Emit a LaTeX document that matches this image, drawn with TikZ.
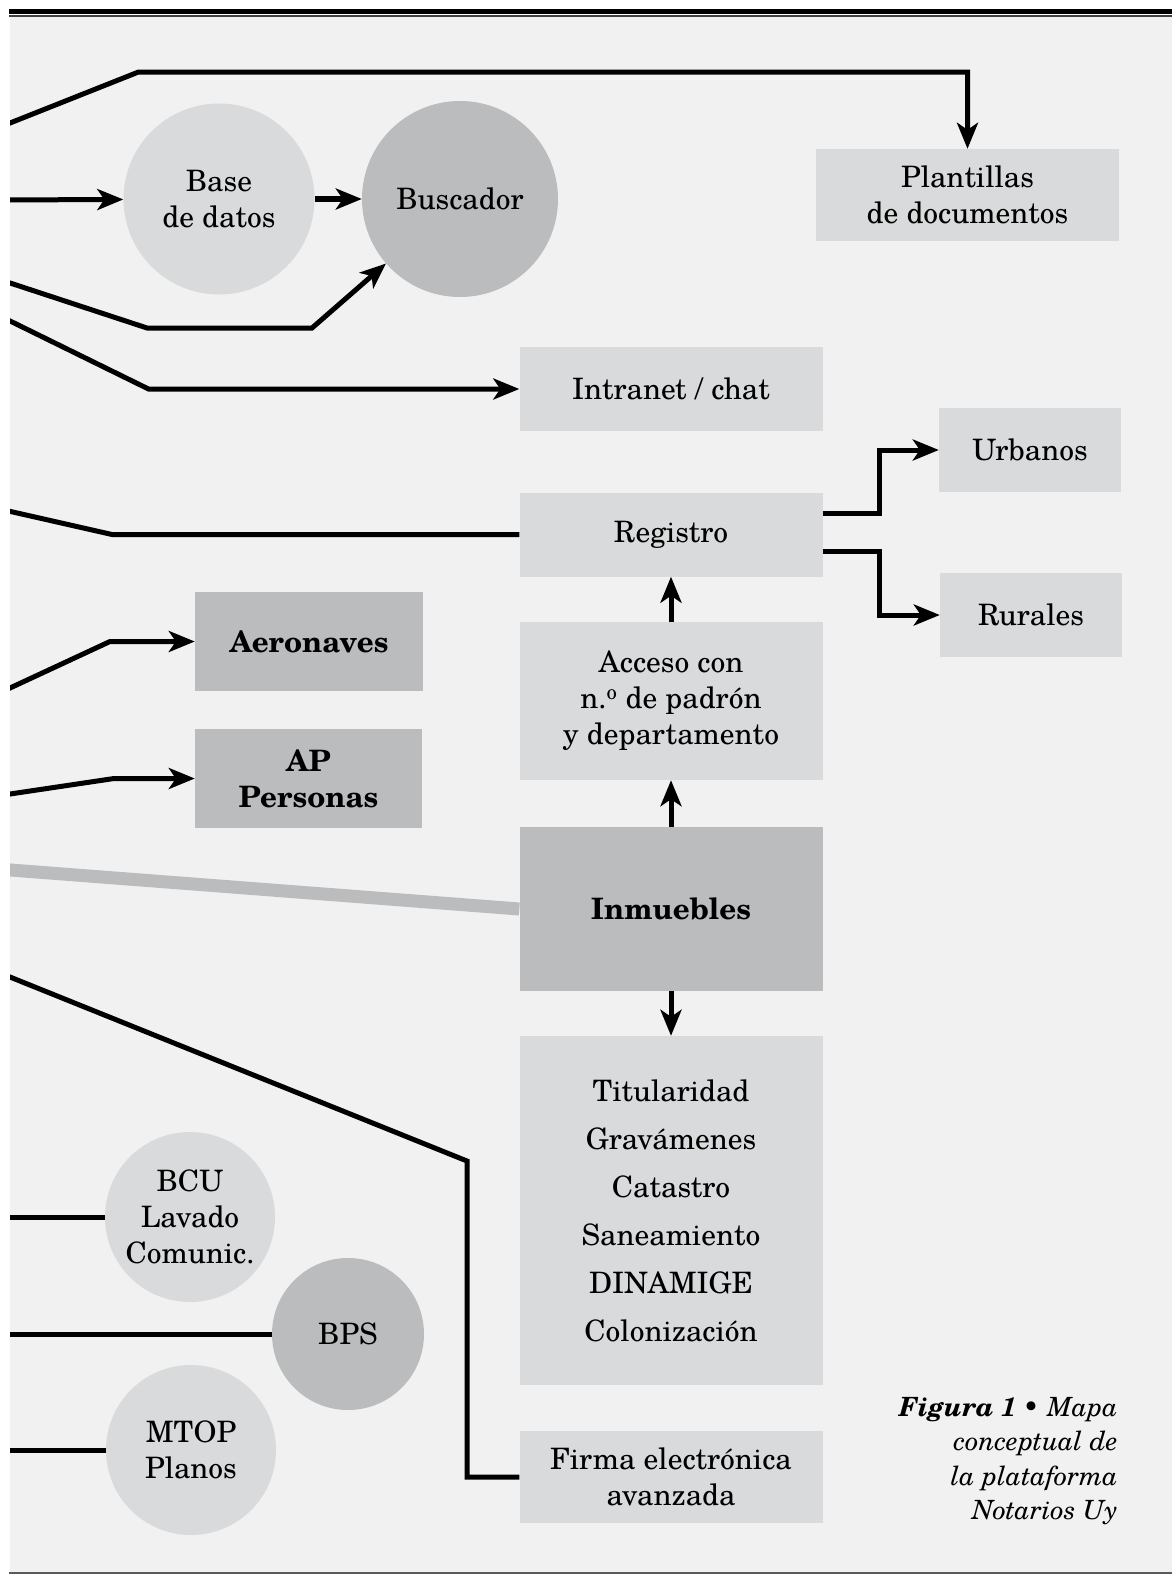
\documentclass[tikz,border=0pt]{standalone}
\usepackage{fontspec}
\setmainfont{TeX Gyre Schola}
\usetikzlibrary{arrows.meta}

\definecolor{fondo}{HTML}{F1F1F1}
\definecolor{claro}{HTML}{D9DADB}
\definecolor{oscuro}{HTML}{BBBCBE}

\begin{document}
\begin{tikzpicture}[x=1pt,y=-1pt,
  texto/.style={font=\fontsize{29.5}{36}\selectfont, align=center, inner sep=0pt},
  caja/.style={texto, rectangle, fill=claro, minimum width=303pt, minimum height=84pt},
  cajaosc/.style={caja, fill=oscuro, font=\fontsize{29.5}{36}\selectfont\bfseries},
  disco/.style={texto, circle, fill=claro},
  linea/.style={line width=5pt},
  flecha/.style={linea, -{Stealth[length=26pt,width=21pt,inset=7pt]}}]
\useasboundingbox (0,0) rectangle (1172,1574);
\fill[white] (0,0) rectangle (1172,1574);
\fill[fondo] (10,17) rectangle (1172,1572);
\fill[black] (8.5,9) rectangle (1172,14);
\draw[line width=1.2pt, black!75] (8.5,16) -- (1172,16);
\draw[line width=1.3pt, black!65] (9,1573) -- (1172,1573);

\coordinate (T0) at (4,125.4);
\coordinate (T1) at (138.5,72);
\coordinate (D0) at (4,200);
\coordinate (S0) at (4,281);
\coordinate (S1) at (147,328);
\coordinate (S2) at (312,328);
\coordinate (I0) at (4,318);
\coordinate (I1) at (148.5,389);
\coordinate (R0) at (4,510);
\coordinate (R1) at (112,534.5);
\coordinate (A0) at (4,690.8);
\coordinate (A1) at (110,641.5);
\coordinate (P0) at (4,794.9);
\coordinate (P1) at (114,778.5);
\coordinate (G0) at (4,869.5);
\coordinate (F0) at (4,974.6);
\coordinate (F1) at (467,1161);
\coordinate (C0) at (4,1217);
\coordinate (B0) at (4,1334);
\coordinate (M0) at (4,1450);

\begin{scope}
\clip (10,17) rectangle (1172,1572);
\node[caja, minimum height=92pt] (plant) at (967.5,195) {Plantillas\\de documentos};
\node[disco, minimum size=191pt] (base) at (219,199) {Base\\de datos};
\node[disco, fill=oscuro, minimum size=196pt] (busc) at (460,199) {Buscador};
\node[caja] (intra) at (671,389) {Intranet / chat};
\node[caja] (regis) at (671,534.5) {Registro};
\node[caja, minimum width=182pt] (urb) at (1030,450) {Urbanos};
\node[caja, minimum width=182pt] (rur) at (1031,615) {Rurales};
\node[caja, minimum height=158pt] (acceso) at (671,701) {Acceso con\\n.\textsuperscript{o} de padrón\\y departamento};
\node[cajaosc, minimum height=164pt] (inm) at (671,909) {Inmuebles};
\node[caja, minimum height=349pt, font=\fontsize{29.5}{48}\selectfont] (titul) at (671,1210.5)
  {Titularidad\\Gravámenes\\Catastro\\Saneamiento\\DINAMIGE\\Colonización};
\node[caja, minimum height=92pt] (firma) at (671,1477) {Firma electrónica\\avanzada};
\node[cajaosc, minimum width=228pt, minimum height=99pt] (aero) at (309,641.5) {Aeronaves};
\node[cajaosc, minimum width=227pt, minimum height=99pt] (ap) at (308.5,778.5) {AP\\Personas};
\node[disco, minimum size=170pt] (bcu) at (190,1217) {BCU\\Lavado\\Comunic.};
\node[disco, fill=oscuro, minimum size=152pt] (bps) at (348,1334) {BPS};
\node[disco, minimum size=170pt] (mtop) at (191,1450) {MTOP\\Planos};
\node[anchor=east, align=right, inner sep=0pt, font=\fontsize{26.5}{34.3}\selectfont\itshape] (pie)
  at (1118,1461) {\textbf{Figura 1} \textbullet\ Mapa\\conceptual de\\la plataforma\\Notarios Uy};

\draw[flecha] (T0) -- (T1) -| (plant);
\draw[flecha] (D0) -- (base);
\draw[flecha, line width=6pt] (base) -- (busc);
\draw[flecha] (S0) -- (S1) -- (S2) -- (busc);
\draw[flecha] (I0) -- (I1) -- (intra);
\draw[linea] (R0) -- (R1) -- (regis);
\draw[flecha] ([yshift=21pt]regis.east) -- ++(57,0) |- (urb);
\draw[flecha] ([yshift=-17pt]regis.east) -- ++(57,0) |- (rur);
\draw[flecha] (acceso) -- (regis);
\draw[flecha] (inm) -- (acceso);
\draw[flecha] (inm) -- (titul);
\draw[flecha] (A0) -- (A1) -- (aero);
\draw[flecha] (P0) -- (P1) -- (ap);
\draw[line width=13pt, oscuro] (G0) -- (inm.west);
\draw[linea] (F0) -- (F1) |- (firma);
\draw[linea] (C0) -- (bcu);
\draw[linea] (B0) -- (bps);
\draw[linea] (M0) -- (mtop);
\end{scope}
\end{tikzpicture}
\end{document}
